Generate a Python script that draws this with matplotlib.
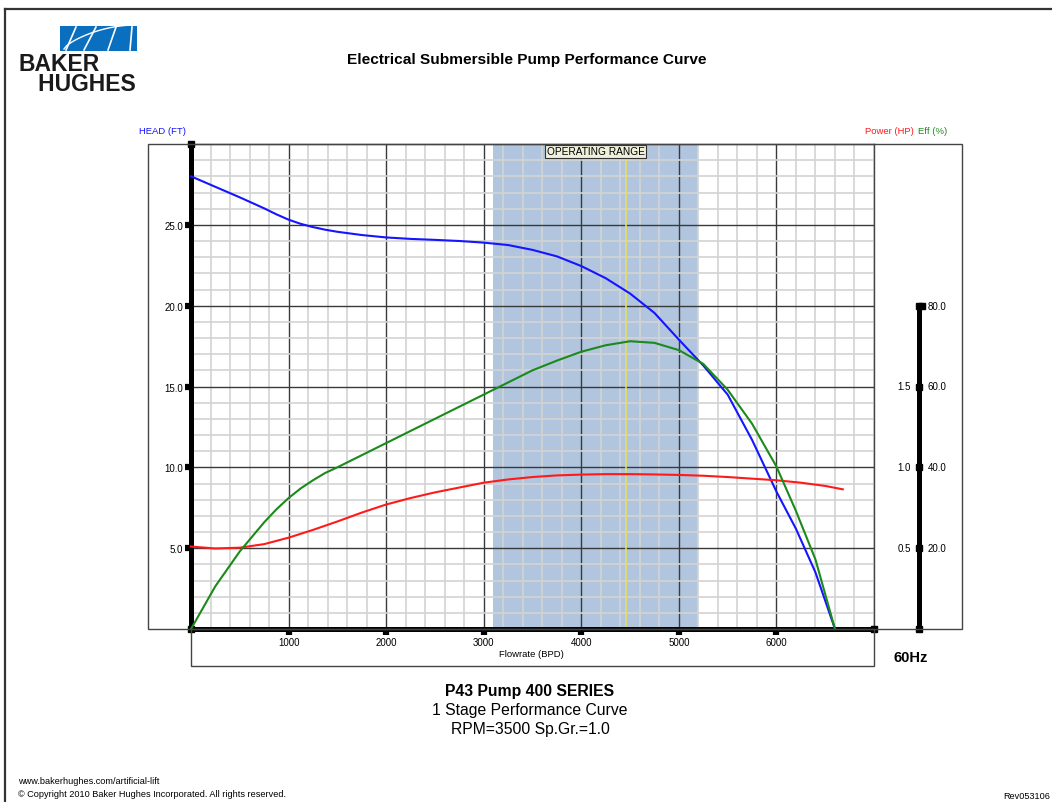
import matplotlib
matplotlib.use("Agg")
import matplotlib.pyplot as plt
from matplotlib.patches import Rectangle
from matplotlib.lines import Line2D
import numpy as np

plt.rcParams['font.family'] = ['Liberation Sans', 'DejaVu Sans']

# ---- pump curve data (flow in BPD) ----
head_flow = [0, 250, 500, 750, 875, 1000, 1125, 1250, 1375, 1500, 1750, 2000, 2250,
             2500, 2750, 3000, 3250, 3500, 3750, 4000, 4250, 4500, 4750, 5000, 5250,
             5500, 5750, 6000, 6200, 6400, 6600]
head_ft = [28.0, 27.35, 26.7, 26.02, 25.65, 25.32, 25.06, 24.86, 24.7, 24.57, 24.37,
           24.22, 24.13, 24.07, 24.0, 23.9, 23.75, 23.45, 23.05, 22.45, 21.7, 20.75,
           19.55, 17.9, 16.3, 14.5, 11.7, 8.5, 6.2, 3.5, 0.0]

eff_flow = [0, 250, 500, 750, 875, 1000, 1125, 1250, 1375, 1500, 1625, 1750, 2000,
            2250, 2500, 2750, 3000, 3250, 3500, 3750, 4000, 4250, 4500, 4750, 5000,
            5250, 5500, 5750, 6000, 6200, 6400, 6600]
eff_pct = [0.0, 10.6, 19.2, 26.4, 29.6, 32.4, 34.8, 36.8, 38.6, 40.0, 41.5, 43.0,
           46.0, 49.0, 52.0, 55.0, 58.0, 61.0, 64.0, 66.4, 68.6, 70.2, 71.2, 70.8,
           69.0, 65.6, 59.2, 50.8, 40.2, 29.2, 17.2, 0.0]

power_flow = [0, 250, 500, 750, 1000, 1250, 1500, 1750, 2000, 2250, 2500, 2750,
              3000, 3250, 3500, 3750, 4000, 4250, 4500, 4750, 5000, 5250, 5500,
              5750, 6000, 6250, 6500, 6680]
power_hp = [0.51, 0.498, 0.503, 0.525, 0.565, 0.613, 0.665, 0.72, 0.77, 0.81, 0.845,
            0.875, 0.905, 0.925, 0.94, 0.95, 0.955, 0.958, 0.958, 0.956, 0.953,
            0.948, 0.94, 0.93, 0.92, 0.905, 0.885, 0.864]

range_min, range_max = 3100, 5200
bep_flow = 4460

x_ticks = [1000, 2000, 3000, 4000, 5000, 6000]
head_ticks = [5.0, 10.0, 15.0, 20.0, 25.0]
power_ticks = [0.5, 1.0, 1.5]
eff_ticks = [20.0, 40.0, 60.0, 80.0]

W, H = 1052, 803
fig = plt.figure(figsize=(W / 100, H / 100), dpi=100)


def fx(px):
    return px / W


def fy(py):
    return 1 - py / H


# page border
fig.add_artist(Line2D([fx(5), fx(5)], [fy(10), 0], color='#333333', lw=1.6))
fig.add_artist(Line2D([fx(5), 1], [fy(10), fy(10)], color='#333333', lw=1.6))

# logo
fig.add_artist(Rectangle((fx(60), fy(52)), fx(77), fy(27) - fy(52),
                         facecolor='#0b6fc0', edgecolor='none'))
for x0, x1 in [(72, 66), (92, 84), (112, 108), (128, 130)]:
    fig.add_artist(Line2D([fx(x0 + 4), fx(x1)], [fy(28), fy(51)], color='white', lw=1.2))
tt = np.linspace(0, 1, 30)
fig.add_artist(Line2D(fx(64 + 72 * tt), fy(50 - 24 * np.sin(tt * np.pi / 2) ** 0.7),
                      color='white', lw=1.0))
fig.text(fx(19), fy(91), 'BAKER\n   HUGHES', fontsize=16.5, fontweight='bold',
         color='#1a1a1a', va='baseline', ha='left', linespacing=0.82,
         multialignment='left')

fig.text(fx(527), fy(60), 'Electrical Submersible Pump Performance Curve',
         fontsize=11.1, fontweight='bold', ha='center', va='center')

# frames around plot
fig.add_artist(Rectangle((fx(148), fy(630)), fx(962 - 148), fy(145) - fy(630),
                         facecolor='none', edgecolor='#444444', lw=1.0))
fig.add_artist(Rectangle((fx(191), fy(667)), fx(874 - 191), fy(630) - fy(667),
                         facecolor='none', edgecolor='#444444', lw=1.0))

ax = fig.add_axes([fx(191), fy(630), fx(874 - 191), fy(145) - fy(630)])
ax.set_xlim(0, 7000)
ax.set_ylim(0, 30)
ax.set_axisbelow(True)

ax.set_xticks(np.arange(0, 7001, 200), minor=True)
ax.set_yticks(np.arange(0, 31, 1), minor=True)
ax.set_xticks(x_ticks)
ax.set_yticks(head_ticks)
ax.set_xticklabels([str(v) for v in x_ticks])
ax.set_yticklabels([f'{v:.1f}' for v in head_ticks])
ax.grid(which='minor', color='#d3d3d3', lw=1.2)
ax.grid(which='major', color='#3a3a3a', lw=1.0)
ax.tick_params(which='minor', length=0)
ax.tick_params(which='major', direction='out', length=4, width=4.5, color='black',
               labelsize=7, pad=1.5)

for s in ['left', 'bottom']:
    ax.spines[s].set_linewidth(3.6)
    ax.spines[s].set_color('black')
for s in ['top', 'right']:
    ax.spines[s].set_linewidth(1.0)
    ax.spines[s].set_color('#444444')

ax.axvspan(range_min, range_max, color='#b1c5de', zorder=0.1, lw=0)
ax.axvline(bep_flow, color='#e2e25a', lw=1.2, zorder=0.6)
ax.text((range_min + range_max) / 2, 29.85, 'OPERATING RANGE', fontsize=7.3,
        ha='center', va='top', zorder=5,
        bbox=dict(boxstyle='square,pad=0.15', facecolor='#efefdc', edgecolor='#333333', lw=0.8))

# corner squares
ax.plot([0, 0, 7000], [0, 30, 0], ls='none', marker='s', ms=4.5, color='black',
        clip_on=False, zorder=6)

ax_p = ax.twinx()
ax_p.set_ylim(0, 3.0)
ax_e = ax.twinx()
ax_e.set_ylim(0, 120)
for a in (ax_p, ax_e):
    a.set_axis_off()

ax_e.plot(eff_flow, eff_pct, color='#1a8a1a', lw=1.5, clip_on=False, zorder=3)
ax_p.plot(power_flow, power_hp, color='#ff1a1a', lw=1.5, clip_on=False, zorder=3)
ax.plot(head_flow, head_ft, color='#1515ff', lw=1.5, clip_on=False, zorder=3)

# right-hand power / efficiency axis
span = 874 - 191
xr = (919 - 191) / span
tr_e = ax_e.get_yaxis_transform()
tr_p = ax_p.get_yaxis_transform()
ax_e.plot([xr, xr], [0, 80], color='black', lw=3.6, transform=tr_e, clip_on=False,
          solid_capstyle='butt')
ax_e.plot([xr] * 5, [0] + eff_ticks, ls='none', marker='s', ms=4.5, color='black',
          transform=tr_e, clip_on=False)
ax_e.plot([xr + 3 / span], [80], ls='none', marker='s', ms=4.5, color='black',
          transform=tr_e, clip_on=False)
for v in eff_ticks:
    ax_e.text(xr + 9 / span, v, f'{v:.1f}', fontsize=7, ha='left', va='center',
              transform=tr_e, clip_on=False)
for v in power_ticks:
    ax_p.text(xr - 8 / span, v, f'{v:.1f}', fontsize=7, ha='right', va='center',
              transform=tr_p, clip_on=False)

ax.text(0.498, -0.05, 'Flowrate (BPD)', transform=ax.transAxes, fontsize=6.8,
        ha='center', va='center')

fig.text(fx(139), fy(131), 'HEAD (FT)', fontsize=6.8, color='#1515ff', va='center')
fig.text(fx(914), fy(131), 'Power (HP)', fontsize=6.8, color='#ff1a1a', va='center', ha='right')
fig.text(fx(918), fy(131), 'Eff (%)', fontsize=6.8, color='#1a8a1a', va='center', ha='left')

fig.text(fx(911), fy(658), '60Hz', fontsize=10.5, fontweight='bold', ha='center', va='center')

fig.text(fx(530), fy(692), 'P43 Pump 400 SERIES', fontsize=11.3, fontweight='bold',
         ha='center', va='center')
fig.text(fx(530), fy(711), '1 Stage Performance Curve', fontsize=11.3, ha='center', va='center')
fig.text(fx(530), fy(730), 'RPM=3500 Sp.Gr.=1.0', fontsize=11.3, ha='center', va='center')

fig.text(fx(18), fy(782), 'www.bakerhughes.com/artificial-lift', fontsize=6.6, va='center')
fig.text(fx(18), fy(795), '\u00a9 Copyright 2010 Baker Hughes Incorporated. All rights reserved.',
         fontsize=6.6, va='center')
fig.text(fx(1050), fy(797), 'Rev053106', fontsize=6.6, va='center', ha='right')

fig.savefig('out.png', dpi=100)
